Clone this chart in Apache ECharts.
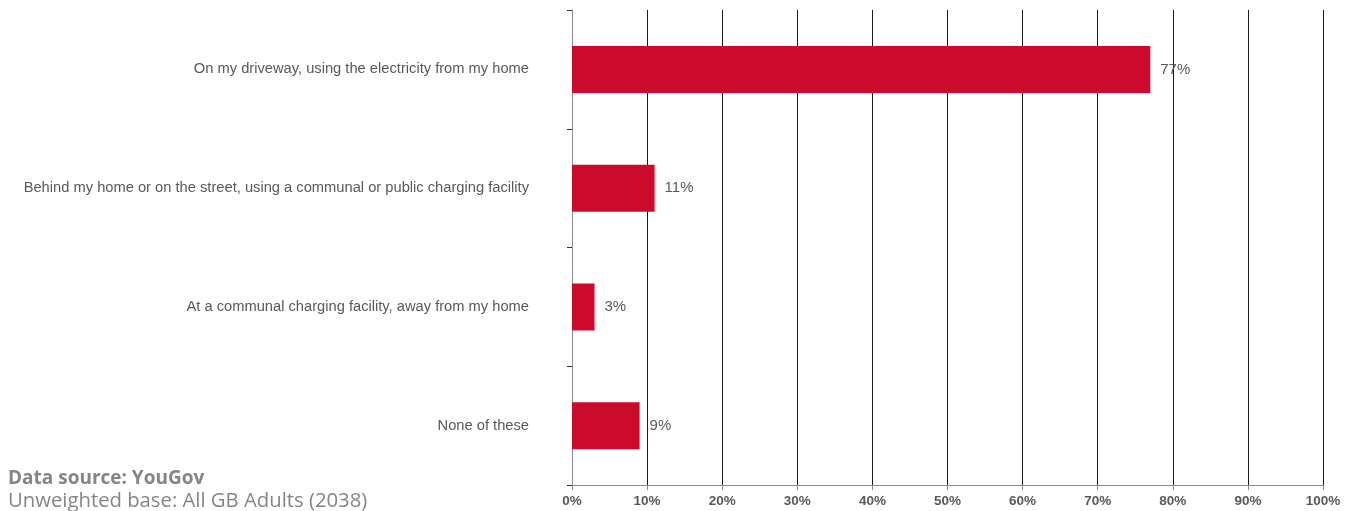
<!DOCTYPE html>
<html>
<head>
<meta charset="utf-8">
<script src="https://cdn.jsdelivr.net/npm/echarts@6/dist/echarts.min.js"></script>
<style>
  html, body { margin: 0; padding: 0; background: #fff; }
  #chart { width: 1357px; height: 511px; }
</style>
</head>
<body>
<div id="chart"></div>
<script>
// Where respondents would charge an electric car
var categories = [
  'On my driveway, using the electricity from my home',
  'Behind my home or on the street, using a communal or public charging facility',
  'At a communal charging facility, away from my home',
  'None of these'
];
var shares = [77, 11, 3, 9];
var xTicks = [0, 10, 20, 30, 40, 50, 60, 70, 80, 90, 100];

var chart = echarts.init(document.getElementById('chart'), null, { renderer: 'canvas' });

chart.setOption({
  animation: false,
  backgroundColor: '#ffffff',
  grid: { left: 572, right: 34, top: 10, bottom: 26, containLabel: false },
  xAxis: {
    type: 'value',
    min: xTicks[0],
    max: xTicks[xTicks.length - 1],
    interval: 10,
    axisLine: { show: true, lineStyle: { color: '#8c8c8c', width: 1 } },
    axisTick: { show: true, length: 5, lineStyle: { color: '#8c8c8c' } },
    axisLabel: {
      formatter: '{value}%',
      color: '#595959',
      fontFamily: 'Liberation Sans, Arial, sans-serif',
      fontWeight: 'bold',
      fontSize: 13.5,
      margin: 9
    },
    splitLine: { show: true, lineStyle: { color: '#1a1a1a', width: 1 } }
  },
  yAxis: {
    type: 'category',
    data: categories,
    inverse: true,
    boundaryGap: true,
    axisLine: { show: true, lineStyle: { color: '#8c8c8c', width: 1 } },
    axisTick: { show: true, length: 5, lineStyle: { color: '#333333' } },
    axisLabel: {
      color: '#595959',
      fontFamily: 'Liberation Sans, Arial, sans-serif',
      fontSize: 14.7,
      margin: 43
    },
    splitLine: { show: false }
  },
  series: [{
    type: 'bar',
    data: shares,
    barWidth: 47,
    itemStyle: { color: '#cc0a2b' },
    label: {
      show: true,
      position: 'right',
      distance: 10,
      formatter: '{c}%',
      color: '#595959',
      fontFamily: 'Liberation Sans, Arial, sans-serif',
      fontSize: 15
    }
  }],
  graphic: [
    {
      type: 'text', left: 8, top: 469,
      style: {
        text: 'Data source: YouGov',
        fill: '#858585',
        font: 'bold 19px "Open Sans", Lato, sans-serif'
      }
    },
    {
      type: 'text', left: 8, top: 491,
      style: {
        text: 'Unweighted base: All GB Adults (2038)',
        fill: '#858585',
        font: '20.3px "Open Sans", Lato, sans-serif'
      }
    }
  ]
});
</script>
</body>
</html>
